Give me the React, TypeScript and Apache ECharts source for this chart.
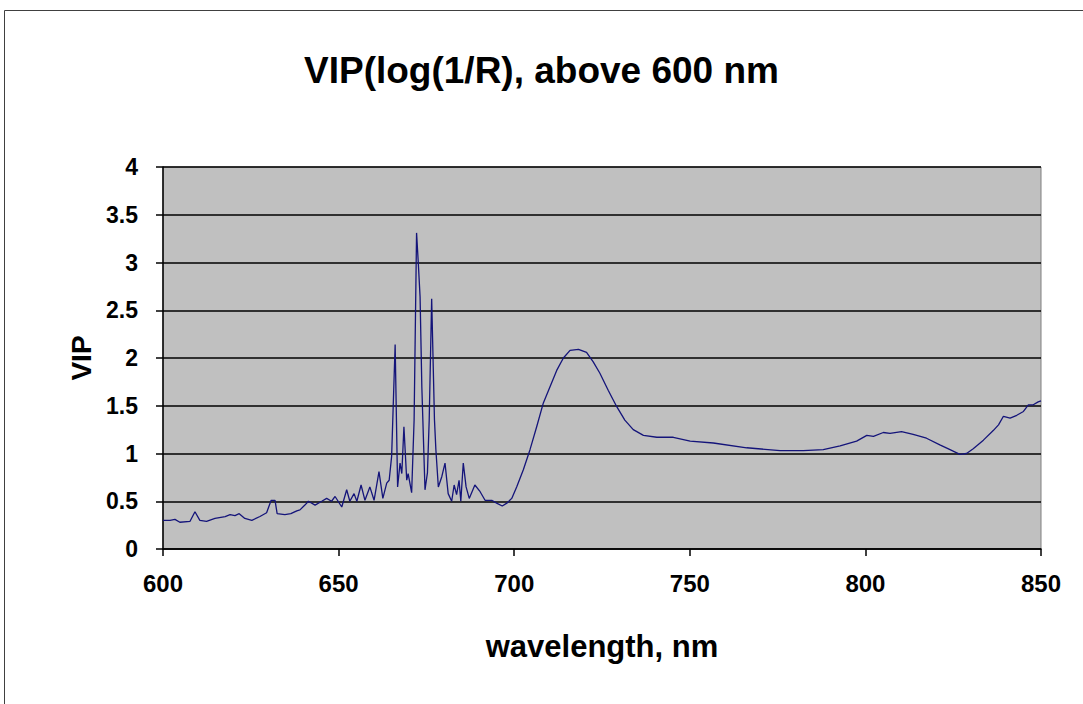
import React, { useEffect, useRef } from "react";
import * as echarts from "echarts";

const titleText = "VIP(log(1/R), above 600 nm";
const xAxisName = "wavelength, nm";
const yAxisName = "VIP";

const wavelength: number[] = [
  600, 602, 603.4, 604.8, 607.7, 609.1, 610.5, 612.4, 614.8, 617.7, 619.1, 620.5, 621.7, 623.3, 625.3, 627.6, 629.5, 630.8, 631.9, 632.5, 634.7, 636.4, 638.1, 639.0, 640.4, 641.4, 643.3, 645.2, 646.6, 648.0, 649.0, 650.9, 652.3, 653.2, 654.4, 655.2, 656.4, 657.5, 658.9, 660.1, 661.5, 662.6, 663.7, 664.4, 665.1, 666.1, 666.8, 667.5, 668.0, 668.6, 669.4, 669.8, 670.8, 671.5, 672.2, 672.7, 673.2, 673.7, 674.6, 675.3, 675.8, 676.5, 677.3, 677.7, 678.4, 679.4, 680.3, 681.2, 682.2, 682.9, 683.6, 684.3, 684.8, 685.5, 686.3, 687.2, 688.8, 690.3, 691.7, 693.6, 695.0, 696.6, 697.9, 699.3, 700.7, 702.6, 704.5, 706.4, 708.3, 710.2, 712.1, 714.0, 715.9, 718.3, 720.6, 722.5, 724.4, 726.8, 729.2, 731.5, 733.9, 736.8, 740.6, 745.3, 750.1, 756.7, 766.2, 775.7, 782.3, 788.0, 792.8, 797.5, 800.4, 802.3, 805.1, 807.0, 810.3, 813.6, 817.4, 821.2, 824.1, 826.9, 828.8, 830.7, 833.6, 836.4, 837.9, 839.3, 841.2, 843.1, 845.0, 846.4, 847.8, 849.2, 850,
];

const vip: number[] = [
  0.30, 0.30, 0.31, 0.28, 0.29, 0.39, 0.30, 0.29, 0.32, 0.34, 0.36, 0.35, 0.37, 0.32, 0.30, 0.34, 0.38, 0.51, 0.51, 0.37, 0.36, 0.37, 0.40, 0.41, 0.46, 0.50, 0.46, 0.50, 0.53, 0.50, 0.55, 0.44, 0.62, 0.50, 0.58, 0.50, 0.67, 0.51, 0.65, 0.51, 0.81, 0.53, 0.69, 0.72, 0.97, 2.14, 0.65, 0.90, 0.79, 1.28, 0.72, 0.79, 0.59, 1.35, 3.31, 2.99, 2.64, 1.70, 0.62, 0.80, 1.35, 2.62, 1.35, 1.04, 0.65, 0.76, 0.90, 0.58, 0.50, 0.67, 0.57, 0.72, 0.50, 0.90, 0.65, 0.53, 0.67, 0.60, 0.51, 0.51, 0.48, 0.45, 0.48, 0.53, 0.65, 0.83, 1.04, 1.28, 1.53, 1.70, 1.87, 2.00, 2.08, 2.09, 2.06, 1.96, 1.84, 1.66, 1.49, 1.35, 1.25, 1.19, 1.17, 1.17, 1.13, 1.11, 1.06, 1.03, 1.03, 1.04, 1.08, 1.13, 1.19, 1.18, 1.22, 1.21, 1.23, 1.20, 1.16, 1.09, 1.04, 0.99, 1.00, 1.05, 1.14, 1.24, 1.30, 1.39, 1.37, 1.40, 1.44, 1.51, 1.51, 1.54, 1.55,
];

const FONT = "'Liberation Sans', Arial, sans-serif";

export default function App() {
  const ref = useRef<HTMLDivElement>(null);
  useEffect(() => {
    if (!ref.current) return;
    const chart = echarts.init(ref.current, undefined, { renderer: "svg" });
    const data = wavelength.map((w, i) => [w, vip[i]]);
    chart.setOption({
      animation: false,
      backgroundColor: "#ffffff",
      title: {
        text: titleText,
        left: "center",
        top: 47,
        textStyle: { fontFamily: FONT, fontWeight: "bold", fontSize: 37, color: "#000" },
      },
      graphic: [
        {
          type: "rect",
          shape: { x: 4.5, y: 10.5, width: 1100, height: 720 },
          style: { fill: "none", stroke: "#404040", lineWidth: 1 },
          silent: true,
        },
      ],
      grid: {
        left: 163,
        right: 42,
        top: 167,
        bottom: 155,
        show: true,
        backgroundColor: "#c0c0c0",
        borderColor: "#808080",
        borderWidth: 1,
      },
      xAxis: {
        type: "value",
        min: 600,
        max: 850,
        interval: 50,
        name: xAxisName,
        nameLocation: "middle",
        nameGap: 82,
        nameTextStyle: { fontFamily: FONT, fontWeight: "bold", fontSize: 31, color: "#000" },
        axisLine: { show: true, lineStyle: { color: "#000", width: 1.5 } },
        axisTick: { show: true, length: 7, inside: false, lineStyle: { color: "#000", width: 1.5 } },
        axisLabel: { fontFamily: FONT, fontWeight: "bold", fontSize: 24, color: "#000", margin: 22 },
        splitLine: { show: false },
      },
      yAxis: {
        type: "value",
        min: 0,
        max: 4,
        interval: 0.5,
        name: yAxisName,
        nameLocation: "middle",
        nameGap: 60,
        nameRotate: 90,
        nameTextStyle: { fontFamily: FONT, fontWeight: "bold", fontSize: 28, color: "#000" },
        axisLine: { show: true, lineStyle: { color: "#000", width: 1.5 } },
        axisTick: { show: true, length: 7, inside: false, lineStyle: { color: "#000", width: 1.5 } },
        axisLabel: { fontFamily: FONT, fontWeight: "bold", fontSize: 23, color: "#000", margin: 25 },
        splitLine: { show: true, lineStyle: { color: "#000", width: 1.5 } },
      },
      series: [
        {
          type: "line",
          data,
          showSymbol: false,
          smooth: false,
          lineStyle: { color: "#14147a", width: 1.3 },
        },
      ],
    });
    return () => chart.dispose();
  }, []);
  return (
    <div
      ref={ref}
      style={{ position: "fixed", left: 0, top: 0, width: 1083, height: 704 }}
    />
  );
}
